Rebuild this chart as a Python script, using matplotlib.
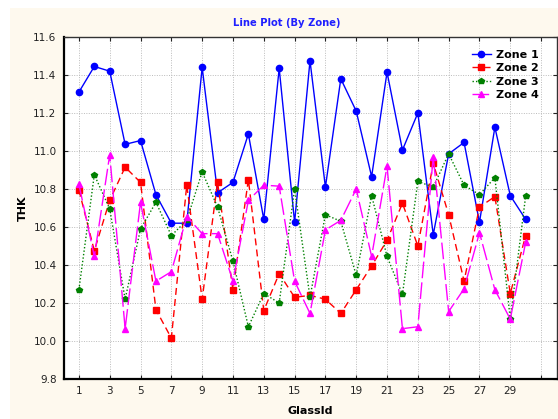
import matplotlib
matplotlib.use('Agg')
import matplotlib.pyplot as plt
from matplotlib.patches import Rectangle

glass_id = list(range(1, 31))

zone1 = [11.31, 11.445, 11.42, 11.035, 11.055, 10.77, 10.62, 10.62, 11.44, 10.78,
         10.835, 11.09, 10.64, 11.435, 10.625, 11.475, 10.81, 11.38, 11.21, 10.865,
         11.415, 11.005, 11.2, 10.56, 10.985, 11.045, 10.625, 11.125, 10.765, 10.64]
zone2 = [10.795, 10.475, 10.74, 10.915, 10.835, 10.165, 10.015, 10.82, 10.22, 10.835,
         10.27, 10.85, 10.16, 10.355, 10.23, 10.24, 10.22, 10.145, 10.27, 10.395,
         10.53, 10.725, 10.5, 10.935, 10.665, 10.315, 10.705, 10.76, 10.25, 10.555]
zone3 = [10.27, 10.875, 10.695, 10.22, 10.59, 10.73, 10.555, 10.635, 10.89, 10.705,
         10.42, 10.075, 10.25, 10.2, 10.8, 10.23, 10.665, 10.63, 10.345, 10.765,
         10.445, 10.245, 10.84, 10.81, 10.985, 10.82, 10.77, 10.86, 10.115, 10.765]
zone4 = [10.825, 10.445, 10.98, 10.065, 10.73, 10.315, 10.365, 10.655, 10.565, 10.565,
         10.315, 10.74, 10.82, 10.815, 10.315, 10.145, 10.585, 10.635, 10.8, 10.445,
         10.92, 10.065, 10.075, 10.97, 10.155, 10.275, 10.57, 10.27, 10.115, 10.52]

y_ticks = [9.8, 10.0, 10.2, 10.4, 10.6, 10.8, 11.0, 11.2, 11.4, 11.6]
x_ticks = list(range(1, 32, 2))
x_labels = [str(t) for t in x_ticks[:-1]] + ['']

fig = plt.figure(figsize=(5.58, 4.19), dpi=100)
fig.patch.set_facecolor('white')
# cream panel behind the plot
fig.patches.append(Rectangle((10 / 558, 0), 548 / 558, 411 / 419,
                             transform=fig.transFigure, facecolor='#FEF9EE',
                             edgecolor='none', zorder=-10))

ax = fig.add_axes([63.5 / 558, 40 / 419, 493 / 558, 342 / 419])
ax.set_facecolor('white')

ax.plot(glass_id, zone1, color='#0000FF', lw=1.0, marker='o', ms=4.5,
        label='Zone 1')
ax.plot(glass_id, zone2, color='#FF0000', lw=1.0, ls=(0, (5, 3)), marker='s',
        ms=4.5, label='Zone 2')
ax.plot(glass_id, zone3, color='#008000', lw=1.0, ls=(0, (1, 1.5)), marker='p',
        ms=4, label='Zone 3')
ax.plot(glass_id, zone4, color='#FF00FF', lw=1.0, ls=(0, (12, 3)), marker='^',
        ms=5, label='Zone 4')

ax.set_xlim(0, 32)
ax.set_ylim(9.8, 11.6)
ax.set_xticks(x_ticks)
ax.set_xticklabels(x_labels)
ax.set_yticks(y_ticks)
ax.set_yticklabels(['%.1f' % v for v in y_ticks])
ax.tick_params(direction='in', length=3, labelsize=7.5, top=True, right=True,
               colors='#222222', pad=5)
ax.grid(True, color='#BBBBBB', ls=(0, (1, 1.5)), lw=0.7)

for side in ['left', 'bottom']:
    ax.spines[side].set_linewidth(1.6)
    ax.spines[side].set_color('black')
for side in ['top', 'right']:
    ax.spines[side].set_linewidth(1.0)
    ax.spines[side].set_color('#333333')

ax.set_title('Line Plot (By Zone)', color='#2020FF', fontsize=7.2,
             fontweight='bold', pad=8, x=(287 - 63.5) / 493)
ax.set_xlabel('GlassId', fontsize=8, fontweight='bold', labelpad=7)
ax.set_ylabel('THK', fontsize=8, fontweight='bold', labelpad=4)

# legend placed by pixel position of the reference
ax.legend(loc='upper left', frameon=False, prop={'weight': 'bold', 'size': 8},
          handlelength=1.7, handletextpad=0.5, labelspacing=0.3,
          borderpad=0, borderaxespad=0,
          bbox_to_anchor=((472 - 63.5) / 493, (379 - 50) / 342))

fig.savefig('out.png', dpi=100)
